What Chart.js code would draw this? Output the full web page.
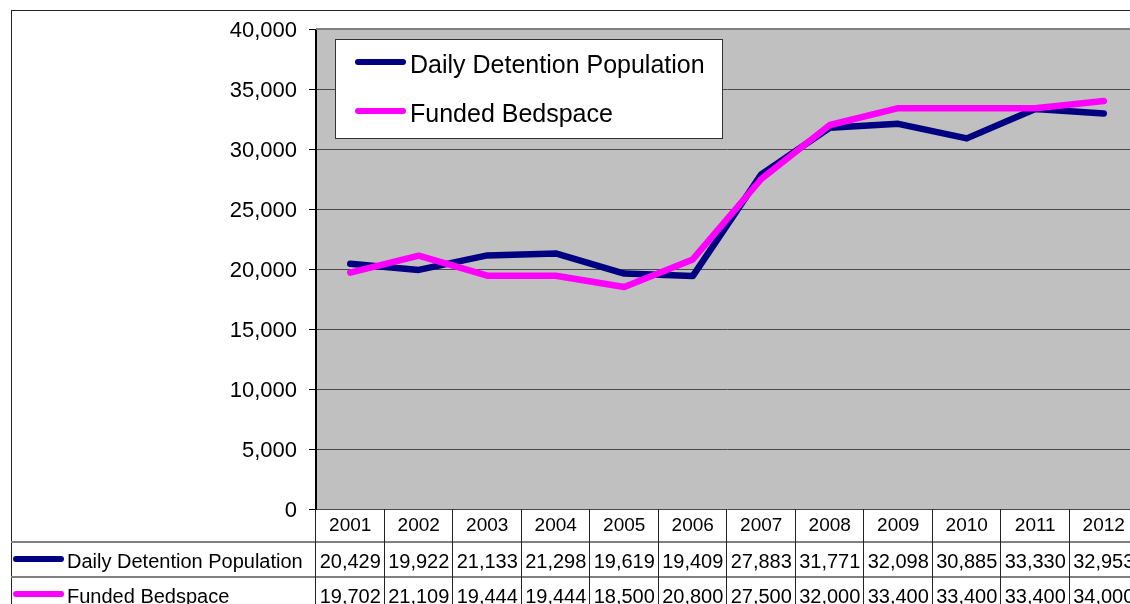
<!DOCTYPE html>
<html>
<head>
<meta charset="utf-8">
<script src="https://cdn.jsdelivr.net/npm/chart.js@4.4.1/dist/chart.umd.min.js"></script>
<style>
html,body{margin:0;padding:0;overflow:hidden;background:#fff;}
canvas{display:block;}
</style>
</head>
<body>
<canvas id="c" width="1150" height="620"></canvas>
<script>
const years = ['2001','2002','2003','2004','2005','2006','2007','2008','2009','2010','2011','2012'];
const detention = [20429,19922,21133,21298,19619,19409,27883,31771,32098,30885,33330,32953];
const bedspace = [19702,21109,19444,19444,18500,20800,27500,32000,33400,33400,33400,34000];
const seriesNames = ['Daily Detention Population','Funded Bedspace'];
const seriesColors = ['#000080','#FF00FF'];
const yTicks = [0,5000,10000,15000,20000,25000,30000,35000,40000];

const FONT = "'Liberation Sans', Arial, sans-serif";
const fmt = v => v.toLocaleString('en-US');

const decor = {
  id: 'decor',
  beforeDraw(chart) {
    const {ctx, chartArea: a, width, height} = chart;
    ctx.save();
    ctx.fillStyle = '#fff';
    ctx.fillRect(0, 0, width, height);
    ctx.strokeStyle = '#222';
    ctx.lineWidth = 1;
    ctx.strokeRect(11.5, 10.5, width + 20, height + 20);
    ctx.fillStyle = '#C0C0C0';
    ctx.fillRect(a.left, a.top, a.right - a.left, a.bottom - a.top);
    ctx.restore();
  },
  beforeDatasetsDraw(chart) {
    const {ctx, chartArea: a} = chart;
    ctx.save();
    ctx.strokeStyle = '#808080';
    ctx.lineWidth = 2;
    ctx.beginPath();
    ctx.moveTo(a.left, a.top); ctx.lineTo(a.right, a.top);
    ctx.moveTo(a.right, a.top); ctx.lineTo(a.right, a.bottom);
    ctx.stroke();
    ctx.strokeStyle = '#000';
    ctx.lineWidth = 1;
    ctx.beginPath();
    ctx.moveTo(a.left - 0.5, a.top); ctx.lineTo(a.left - 0.5, a.bottom);
    ctx.stroke();
    ctx.restore();
  },
  afterDraw(chart) {
    const {ctx, chartArea: a, width, height} = chart;
    const xs = chart.scales.x;
    const n = years.length;
    const w = (a.right - a.left) / n;
    const rowTop = a.bottom;
    const row1 = rowTop + 33;
    const row2 = row1 + 35;
    const row3 = row2 + 35;
    ctx.save();
    ctx.strokeStyle = '#808080';
    ctx.lineWidth = 2;
    ctx.beginPath();
    ctx.moveTo(11, row1); ctx.lineTo(width, row1);
    ctx.moveTo(11, row2); ctx.lineTo(width, row2);
    ctx.moveTo(11, row3); ctx.lineTo(width, row3);
    ctx.stroke();
    ctx.strokeStyle = '#222';
    ctx.lineWidth = 1;
    ctx.beginPath();
    for (let i = 0; i <= n; i++) {
      const x = Math.round(a.left + i * w) - 0.5;
      ctx.moveTo(x, rowTop); ctx.lineTo(x, height);
    }
    ctx.stroke();
    ctx.fillStyle = '#000';
    ctx.textAlign = 'center';
    ctx.textBaseline = 'middle';
    ctx.font = '19px ' + FONT;
    years.forEach((y, i) => {
      ctx.fillText(y, xs.getPixelForValue(i), rowTop + 17);
    });
    ctx.font = '20px ' + FONT;
    const rows = [detention, bedspace];
    const rowY = [row1 + 20, row2 + 20];
    rows.forEach((vals, r) => {
      vals.forEach((v, i) => {
        ctx.fillText(fmt(v), xs.getPixelForValue(i), rowY[r]);
      });
    });
    ctx.textAlign = 'left';
    seriesNames.forEach((name, r) => {
      ctx.strokeStyle = seriesColors[r];
      ctx.lineWidth = 6;
      ctx.lineCap = 'round';
      ctx.beginPath();
      ctx.moveTo(16, rowY[r] - 3); ctx.lineTo(61, rowY[r] - 3);
      ctx.stroke();
      ctx.fillStyle = '#000';
      ctx.fillText(name, 67, rowY[r]);
    });
    ctx.fillStyle = '#fff';
    ctx.fillRect(335, 39, 387, 99);
    ctx.strokeStyle = '#333';
    ctx.lineWidth = 1;
    ctx.strokeRect(335.5, 39.5, 387, 99);
    ctx.font = '25px ' + FONT;
    ctx.textBaseline = 'middle';
    seriesNames.forEach((name, r) => {
      const y = 62 + r * 49;
      ctx.strokeStyle = seriesColors[r];
      ctx.lineWidth = 6;
      ctx.lineCap = 'round';
      ctx.beginPath();
      ctx.moveTo(358, y); ctx.lineTo(403, y);
      ctx.stroke();
      ctx.fillStyle = '#000';
      ctx.fillText(name, 410, y + 4);
    });
    ctx.restore();
  }
};

new Chart(document.getElementById('c'), {
  type: 'line',
  data: {
    labels: years,
    datasets: [
      {label: seriesNames[0], data: detention, borderColor: seriesColors[0], backgroundColor: seriesColors[0],
       borderWidth: 6.5, pointRadius: 0, tension: 0, borderCapStyle: 'round', borderJoinStyle: 'round', order: 1},
      {label: seriesNames[1], data: bedspace, borderColor: seriesColors[1], backgroundColor: seriesColors[1],
       borderWidth: 6.5, pointRadius: 0, tension: 0, borderCapStyle: 'round', borderJoinStyle: 'round', order: 0}
    ]
  },
  options: {
    responsive: false,
    devicePixelRatio: 1,
    animation: false,
    layout: {padding: {left: 11, top: 29, right: 12, bottom: 111}},
    plugins: {legend: {display: false}, tooltip: {enabled: false}},
    scales: {
      x: {type: 'category', offset: true, display: false},
      y: {
        min: 0, max: 40000,
        afterBuildTicks: s => { s.ticks = yTicks.map(v => ({value: v})); },
        afterFit: s => { s.width = 305; },
        ticks: {color: '#000', font: {family: FONT, size: 22}, padding: 12, labelOffset: 2, callback: v => fmt(v)},
        grid: {color: '#4a4a4a', lineWidth: 1, tickLength: 7, tickColor: '#000', drawTicks: true},
        border: {display: true, color: '#000', width: 1}
      }
    }
  },
  plugins: [decor]
});
</script>
</body>
</html>
